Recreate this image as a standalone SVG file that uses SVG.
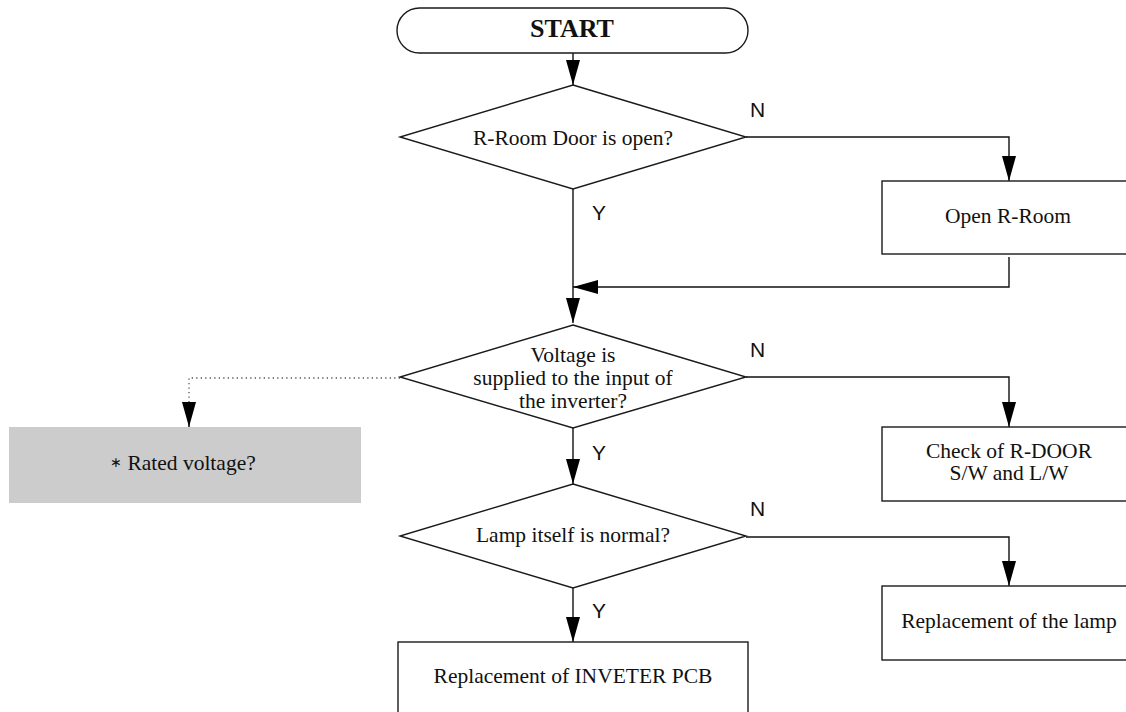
<svg xmlns="http://www.w3.org/2000/svg" width="1126" height="712" viewBox="0 0 1126 712">
<style>
.shape{fill:#fff;stroke:#1a1a1a;stroke-width:1.4}
.t{font-family:"Liberation Serif","Times New Roman",serif;font-size:21.5px;fill:#111;text-anchor:middle}
.b{font-weight:bold;font-size:26px}
.lbl{font-family:"Liberation Sans",Arial,sans-serif;font-size:21px;fill:#111}
.c{fill:none;stroke:#111;stroke-width:1.4}
.dot{fill:none;stroke:#555;stroke-width:1.3;stroke-dasharray:1.3 3.2}
</style>
<defs>
<marker id="ah" markerUnits="userSpaceOnUse" markerWidth="25" markerHeight="14" refX="25" refY="7" orient="auto">
<path d="M0,0 L25,7 L0,14 Z" fill="#000"/>
</marker>
</defs>
<g id="connectors">
<path class="c" d="M573,53 V85" marker-end="url(#ah)"/>
<path class="c" d="M746,137 H1009 V181" marker-end="url(#ah)"/>
<path class="c" d="M573,189 V323" marker-end="url(#ah)"/>
<path class="c" d="M1009,257 V287 H573" marker-end="url(#ah)"/>
<path class="c" d="M746,377 H1009 V427" marker-end="url(#ah)"/>
<path class="dot" d="M400,378 H189 V405"/>
<path class="c" d="M189,405 V427" stroke="none" marker-end="url(#ah)"/>
<path class="c" d="M573,428 V484" marker-end="url(#ah)"/>
<path class="c" d="M746,537 H1009 V586" marker-end="url(#ah)"/>
<path class="c" d="M573,588 V642" marker-end="url(#ah)"/>
<text class="lbl" x="750" y="117">N</text>
<text class="lbl" x="592" y="220">Y</text>
<text class="lbl" x="750" y="357">N</text>
<text class="lbl" x="592" y="460">Y</text>
<text class="lbl" x="750" y="516">N</text>
<text class="lbl" x="592" y="618">Y</text>
</g>
<g id="start">
<rect class="shape" x="397" y="8" width="351" height="45" rx="22.5" ry="22.5"/>
<text class="t b" x="572" y="37">START</text>
</g>
<g id="d1">
<polygon class="shape" points="573,85 746,137 573,189 400,137"/>
<text class="t" x="573" y="145">R-Room Door is open?</text>
</g>
<g id="openroom">
<rect class="shape" x="882" y="181" width="260" height="73"/>
<text class="t" x="1008" y="223">Open R-Room</text>
</g>
<g id="d2">
<polygon class="shape" points="573,325 746,377 573,428 400,377"/>
<text class="t" x="573" y="362">Voltage is</text>
<text class="t" x="573" y="385">supplied to the input of</text>
<text class="t" x="573" y="408">the inverter?</text>
</g>
<g id="rated">
<rect x="9" y="427" width="352" height="76" fill="#cccccc"/>
<text class="t" x="183" y="470"><tspan font-family="DejaVu Sans, sans-serif" font-size="14" dy="-3">∗</tspan><tspan dy="3"> Rated voltage?</tspan></text>
</g>
<g id="checkdoor">
<rect class="shape" x="882" y="427" width="260" height="74"/>
<text class="t" x="1009" y="458">Check of R-DOOR</text>
<text class="t" x="1009" y="480">S/W and L/W</text>
</g>
<g id="d3">
<polygon class="shape" points="573,484 746,536 573,588 400,536"/>
<text class="t" x="573" y="542">Lamp itself is normal?</text>
</g>
<g id="lamp">
<rect class="shape" x="882" y="586" width="260" height="74"/>
<text class="t" x="1009" y="628">Replacement of the lamp</text>
</g>
<g id="inverter">
<rect class="shape" x="398" y="642" width="350" height="90"/>
<text class="t" x="573" y="683">Replacement of INVETER PCB</text>
</g>
</svg>
